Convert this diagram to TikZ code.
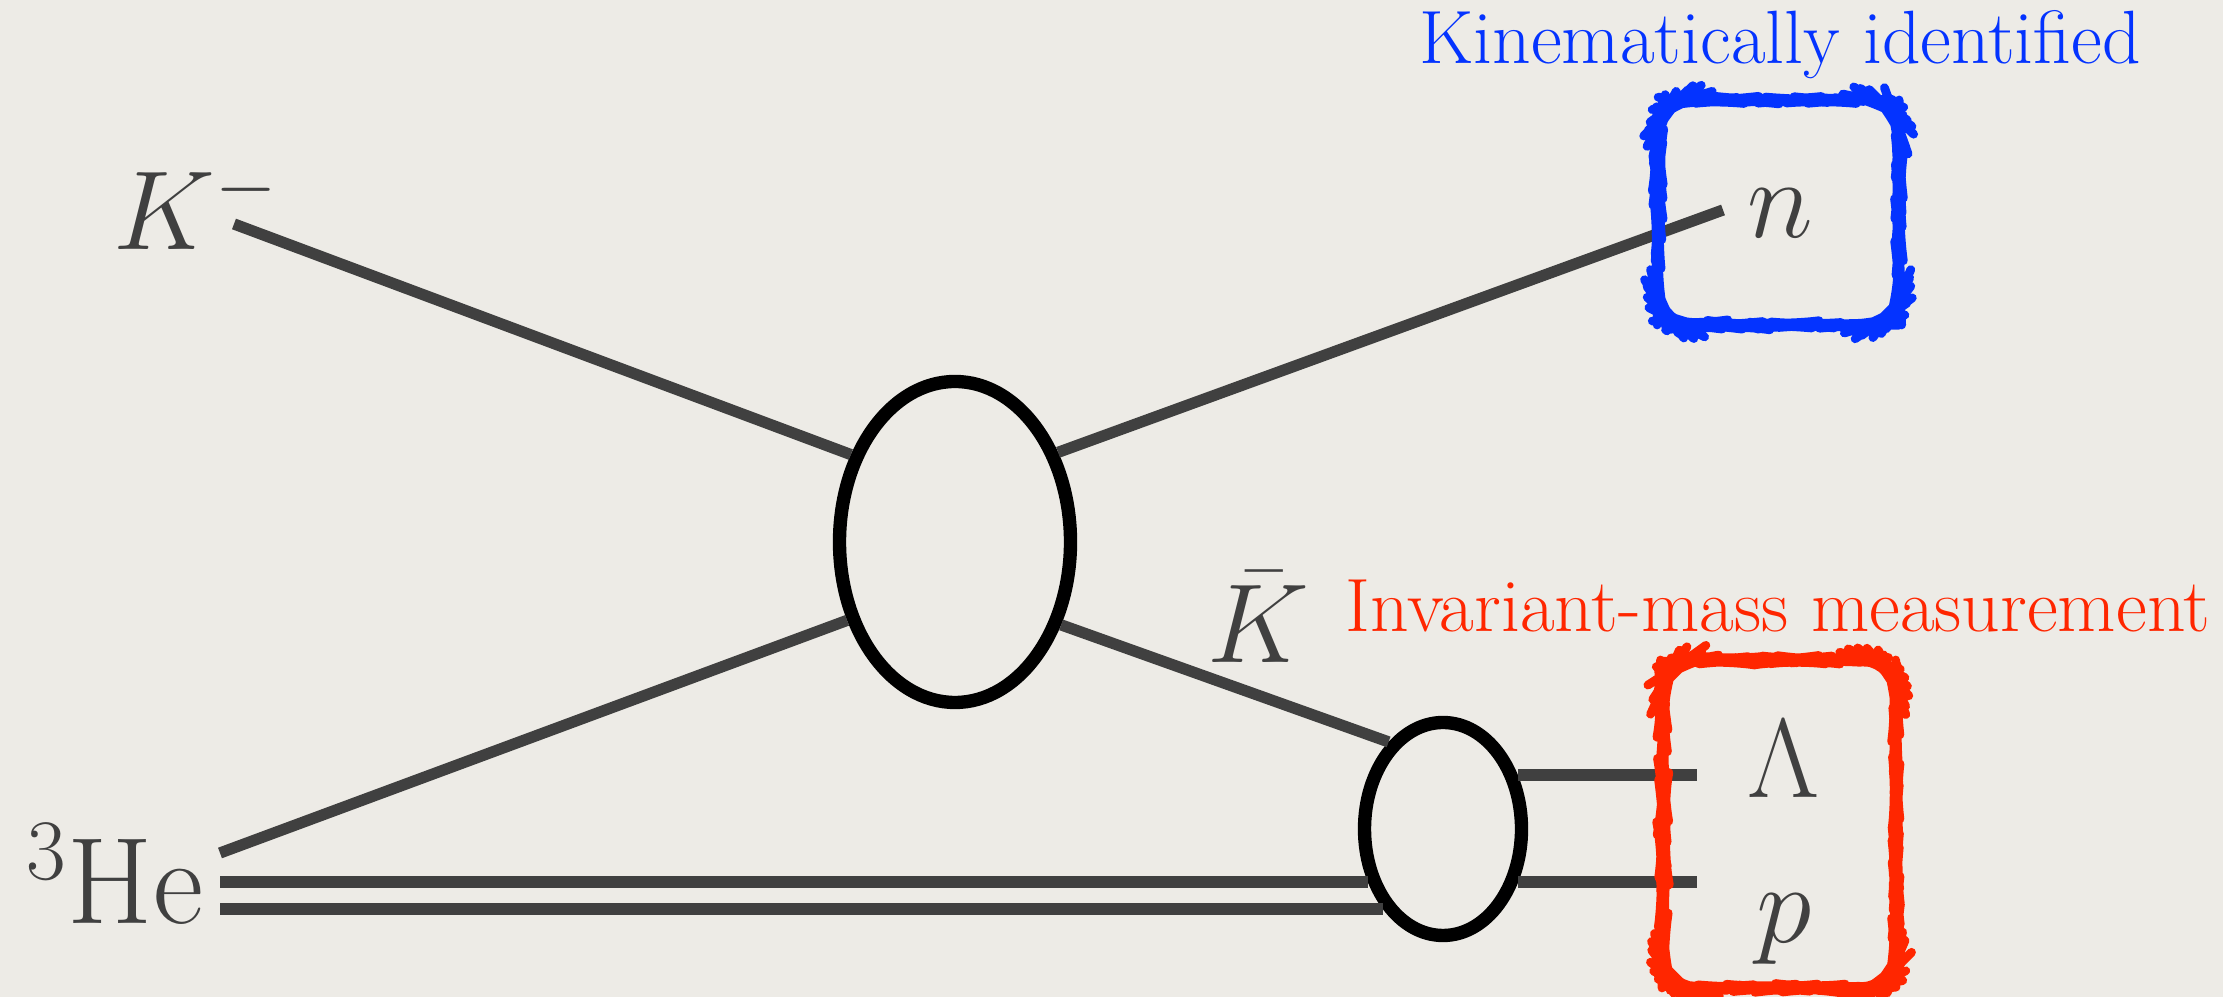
\RequirePackage{fix-cm}
\documentclass[tikz,border=0pt]{standalone}
\usepackage{fontspec}
\usepackage{amsmath}
\usepackage{tikz}
\usetikzlibrary{shapes.geometric,decorations.pathmorphing}
\definecolor{paper}{RGB}{237,235,230}
\definecolor{lineGray}{RGB}{64,64,64}
\definecolor{idBlue}{RGB}{4,51,255}
\definecolor{imRed}{RGB}{255,38,0}

\begin{document}
\begin{tikzpicture}[
  prop/.style={line width=3.2pt,lineGray},
  blob/.style={ellipse,draw=black,line width=3.8pt,inner sep=0pt},
  lbl/.style={inner sep=0pt,anchor=base,text=lineGray,font=\fontsize{32}{38}\selectfont},
  tag/.style={inner sep=0pt,anchor=base,font=\fontsize{21.5}{26}\selectfont},
  idbox/.style={rectangle,rounded corners=10pt,line width=2.5pt,inner sep=0pt,line join=round,
    decorate,decoration={random steps,segment length=2pt,amplitude=0.2pt}}
]
  \pgfmathsetseed{7}
  \useasboundingbox[fill=paper] (0,0) rectangle (22.23,9.97);

  \node[blob,minimum width=2.31cm,minimum height=3.21cm] (big) at (9.55,4.55) {};
  \node[blob,minimum width=1.57cm,minimum height=2.13cm] (small) at (14.43,1.68) {};

  \node[lbl,anchor=base west] (km) at (1.13,7.47) {$K^-$};
  \node[lbl] (nn) at (17.80,7.59) {$n$};
  \node[lbl] (lam) at (17.84,1.99) {$\Lambda$};
  \node[lbl] (pp) at (17.84,0.54) {$p$};
  \node[lbl] (kb) at (12.58,3.34) {$\bar{K}$};
  \node[lbl,anchor=base west,font=\fontsize{35}{42}\selectfont] (he) at (0.26,0.73) {${}^3$He};

  \coordinate (kin) at (2.34,7.73);
  \coordinate (nout) at (17.23,7.87);
  \coordinate (hein) at (2.20,1.44);
  \coordinate (hea) at (2.20,1.15);
  \coordinate (heb) at (2.20,0.88);
  \coordinate (lamout) at (16.97,2.22);
  \coordinate (pout) at (16.97,1.15);

  \draw[prop] (kin) -- (big.140);
  \draw[prop] (big.41) -- (nout);
  \draw[prop] (hein) -- (big.216);
  \draw[prop] (big.322) -- (small.122);
  \draw[prop] (hea) -- (hea -| small.215);
  \draw[prop] (heb) -- (heb -| small.233);
  \draw[prop] (lamout -| small.35) -- (lamout);
  \draw[prop] (pout -| small.325) -- (pout);

  \node[idbox,draw=idBlue,minimum width=2.41cm,minimum height=2.25cm] (nbox) at (17.785,7.845) {};
  \node[idbox,draw=imRed,minimum width=2.33cm,minimum height=3.28cm] (lpbox) at (17.795,1.73) {};

  \node[tag,text=idBlue] (kintag) at (17.80,9.33) {Kinematically identified};
  \node[tag,text=imRed] (imtag) at (17.78,3.65) {Invariant-mass measurement};
\end{tikzpicture}
\end{document}
